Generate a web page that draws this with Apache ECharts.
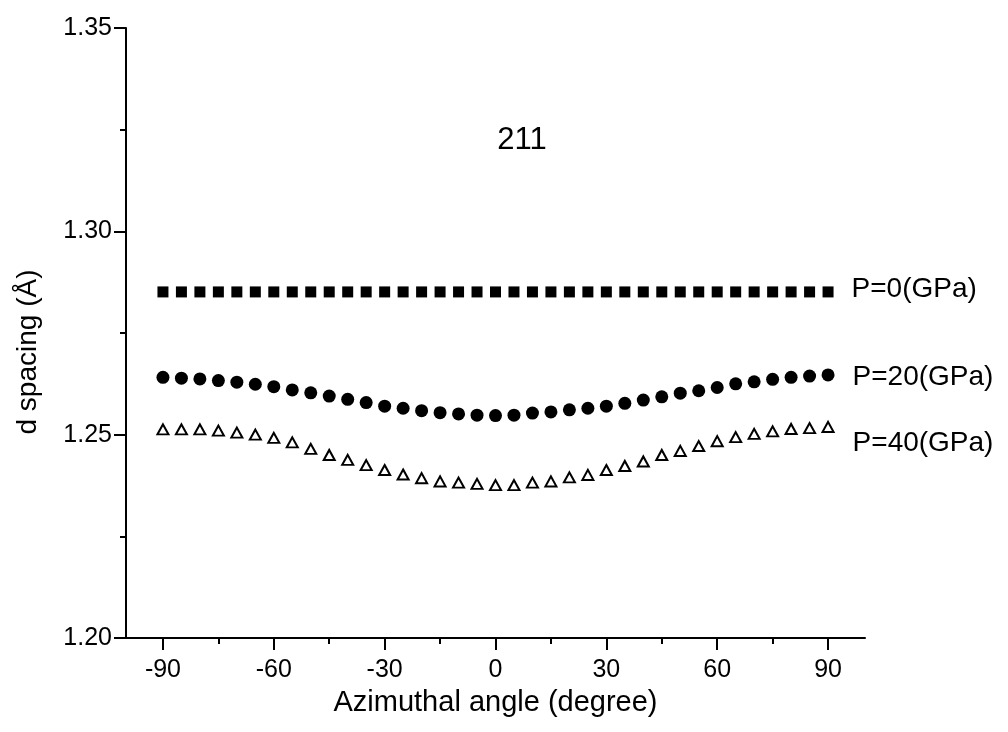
<!DOCTYPE html>
<html>
<head>
<meta charset="utf-8">
<title>211 d spacing</title>
<script src="https://cdn.jsdelivr.net/npm/echarts@6/dist/echarts.min.js"></script>
<style>
    html, body {margin: 0; padding: 0; background: #fff;}
    #chart {width: 1008px; height: 732px;}
</style>
</head>
<body>
<div id="chart"></div>
<script>
// azimuthal angles (degree)
const angles = [-90, -85, -80, -75, -70, -65, -60, -55, -50, -45, -40, -35, -30, -25, -20, -15, -10, -5, 0,
    5, 10, 15, 20, 25, 30, 35, 40, 45, 50, 55, 60, 65, 70, 75, 80, 85, 90];

// d spacing (Å)
const p0 = [1.2851, 1.2851, 1.2851, 1.2851, 1.2851, 1.2851, 1.2851, 1.2851, 1.2851, 1.2851, 1.2851, 1.2851, 1.2851,
    1.2851, 1.2851, 1.2851, 1.2851, 1.2851, 1.2851, 1.2851, 1.2851, 1.2851, 1.2851, 1.2851, 1.2851, 1.2851,
    1.2851, 1.2851, 1.2851, 1.2851, 1.2851, 1.2851, 1.2851, 1.2851, 1.2851, 1.2851, 1.2851];
const p20 = [1.2641, 1.2639, 1.2637, 1.2633, 1.2629, 1.2624, 1.2618, 1.2610, 1.2603, 1.2595, 1.2587, 1.2579, 1.2570,
    1.2565, 1.2559, 1.2554, 1.2551, 1.2548, 1.2547, 1.2548, 1.2553, 1.2556, 1.2561, 1.2565, 1.2570, 1.2577,
    1.2585, 1.2593, 1.2602, 1.2608, 1.2616, 1.2625, 1.2630, 1.2636, 1.2641, 1.2644, 1.2647];
const p40 = [1.2513, 1.2513, 1.2513, 1.2510, 1.2505, 1.2500, 1.2492, 1.2481, 1.2465, 1.2450, 1.2438, 1.2425, 1.2413,
    1.2402, 1.2393, 1.2385, 1.2382, 1.2379, 1.2376, 1.2376, 1.2382, 1.2385, 1.2395, 1.2401, 1.2413, 1.2423,
    1.2434, 1.2450, 1.2460, 1.2472, 1.2484, 1.2494, 1.2502, 1.2508, 1.2514, 1.2516, 1.2519];

const seriesNames = ['P=0(GPa)', 'P=20(GPa)', 'P=40(GPa)'];
const xMajorTicks = [-90, -60, -30, 0, 30, 60, 90];
const xMinorTicks = [-75, -45, -15, 15, 45, 75];

const font = 'Arial, "Liberation Sans", Helvetica, sans-serif';

// pair angles with values, label only the last point
function toPoints(values, name, labelOffset) {
    return values.map((v, i) => {
        const item = {value: [angles[i], v]};
        if (i === values.length - 1) {
            item.label = {
                show: true,
                position: 'right',
                distance: 18,
                offset: labelOffset,
                formatter: name,
                color: '#000',
                fontFamily: font,
                fontSize: 28
            };
        }
        return item;
    });
}

const chart = echarts.init(document.getElementById('chart'));

const option = {
    backgroundColor: '#fff',
    animation: false,
    grid: {left: 126, right: 143, top: 28, bottom: 94},
    title: {
        text: '211',
        left: 517,
        top: 120,
        textAlign: 'center',
        textStyle: {fontFamily: font, fontSize: 31, fontWeight: 'normal', color: '#000'}
    },
    xAxis: [
        {
            type: 'value',
            min: -100,
            max: 100,
            name: 'Azimuthal angle (degree)',
            nameLocation: 'middle',
            nameGap: 50,
            nameTextStyle: {fontFamily: font, fontSize: 29, color: '#000'},
            axisLine: {onZero: false, lineStyle: {color: '#000', width: 2}},
            axisTick: {customValues: xMajorTicks, length: 12, lineStyle: {color: '#000', width: 2}},
            axisLabel: {customValues: xMajorTicks, margin: 20, fontFamily: font, fontSize: 25, color: '#000'},
            splitLine: {show: false}
        },
        {
            type: 'value',
            min: -100,
            max: 100,
            position: 'bottom',
            axisLine: {show: false, onZero: false},
            axisTick: {customValues: xMinorTicks, length: 6, lineStyle: {color: '#000', width: 2}},
            axisLabel: {show: false},
            splitLine: {show: false}
        }
    ],
    yAxis: {
        type: 'value',
        min: 1.20,
        max: 1.35,
        interval: 0.05,
        name: 'd spacing (Å)',
        nameLocation: 'middle',
        nameGap: 84,
        nameTextStyle: {fontFamily: font, fontSize: 28, color: '#000', padding: [0, 38, 0, 0]},
        axisLine: {show: true, onZero: false, lineStyle: {color: '#000', width: 2}},
        axisTick: {show: true, length: 12, lineStyle: {color: '#000', width: 2}},
        minorTick: {show: true, splitNumber: 2, length: 6, lineStyle: {color: '#000', width: 2}},
        axisLabel: {
            margin: 14,
            fontFamily: font,
            fontSize: 25,
            color: '#000',
            formatter: v => v.toFixed(2)
        },
        splitLine: {show: false}
    },
    series: [
        {
            name: seriesNames[0],
            type: 'scatter',
            symbol: 'rect',
            symbolSize: 11,
            itemStyle: {color: '#000', opacity: 1},
            data: toPoints(p0, seriesNames[0], [0, -3])
        },
        {
            name: seriesNames[1],
            type: 'scatter',
            symbol: 'circle',
            symbolSize: 13,
            itemStyle: {color: '#000', opacity: 1},
            data: toPoints(p20, seriesNames[1], [0, 2])
        },
        {
            name: seriesNames[2],
            type: 'scatter',
            symbol: 'triangle',
            symbolSize: [11, 10],
            itemStyle: {color: '#fff', borderColor: '#000', borderWidth: 2, opacity: 1},
            data: toPoints(p40, seriesNames[2], [0, 16])
        }
    ]
};

chart.setOption(option);
</script>
</body>
</html>
